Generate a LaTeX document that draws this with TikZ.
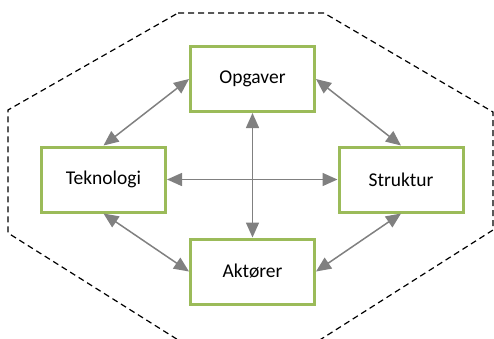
\documentclass[tikz,border=0pt]{standalone}
\usepackage{fontspec}
\setmainfont{Carlito}
\usetikzlibrary{arrows.meta}
\definecolor{boxgreen}{HTML}{9BBB59}
\definecolor{arrgray}{HTML}{808080}
\begin{document}
\begin{tikzpicture}[x=1pt,y=-1pt,
  box/.style={draw=boxgreen,line width=3pt,fill=white,minimum width=124pt,minimum height=65pt,font=\fontsize{19.5}{22}\selectfont,inner sep=0pt},
  link/.style={draw=arrgray,line width=1.5pt,{Triangle[length=15pt,width=13pt]}-{Triangle[length=15pt,width=13pt]}},
  frame/.style={draw=black,line width=1.2pt,dash pattern=on 6pt off 4pt}]
\useasboundingbox (0,0) rectangle (494,338);
\begin{scope}
\clip (0,0) rectangle (494,338);
\draw[frame] (178,13) -- (324,13) -- (493,112) -- (493,230) -- (315,343) -- (183,343) -- (8,233) -- (8,110) -- cycle;
\end{scope}
\node[box] (opg) at (252.5,79) {Opgaver};
\node[box] (tek) at (103.5,179.5) {Teknologi};
\node[box] (str) at (401,179.5) {Struktur};
\node[box] (akt) at (252.5,271.5) {Aktører};
\draw[link] (opg.west) -- (tek.north);
\draw[link] (opg.east) -- (str.north);
\draw[link] (akt.west) -- (tek.south);
\draw[link] (akt.east) -- (str.south);
\draw[link] (tek.east) -- (str.west);
\draw[link] (opg.south) -- (akt.north);
\end{tikzpicture}
\end{document}
